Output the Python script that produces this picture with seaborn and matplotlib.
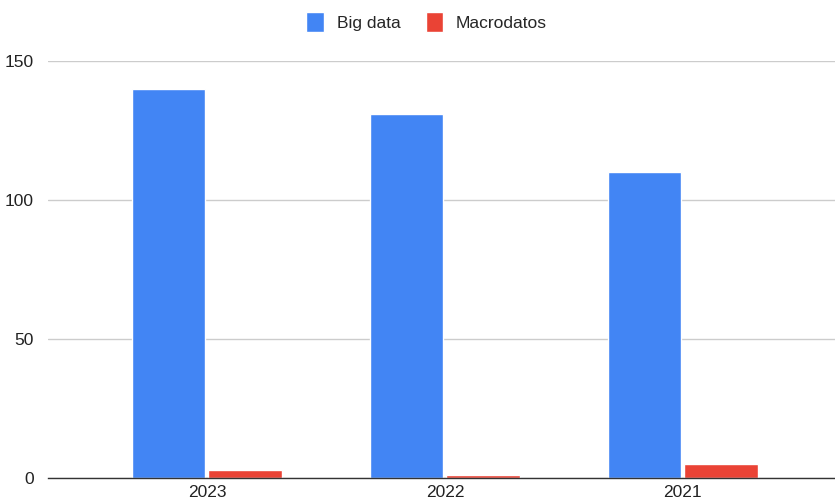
import matplotlib
matplotlib.use("Agg")
import matplotlib.pyplot as plt
import seaborn as sns
import pandas as pd

# datos
years = ["2023", "2022", "2021"]
big_data = [140, 131, 110]
macrodatos = [3, 1, 5]
series_names = ["Big data", "Macrodatos"]
colors = ["#4285F4", "#EA4335"]

df = pd.DataFrame({
    "year": years * 2,
    "value": big_data + macrodatos,
    "serie": [series_names[0]] * 3 + [series_names[1]] * 3,
})

sns.set_style("white")
plt.rcParams["font.family"] = ["Liberation Sans", "DejaVu Sans"]

fig = plt.figure(figsize=(8.35, 5.04), dpi=100)
ax = fig.add_axes([48 / 835, 26 / 504, 787 / 835, 417 / 504])

sns.barplot(data=df, x="year", y="value", hue="serie", order=years,
            hue_order=series_names, palette=colors, width=0.64, gap=0.04,
            saturation=1, ax=ax, legend=True)

ax.set_ylim(0, 150)
ax.set_xlim(-0.668, 2.639)
ax.set_yticks([0, 50, 100, 150])
ax.yaxis.grid(True, color="#cccccc", linewidth=1)
ax.set_axisbelow(True)
for s in ["top", "right", "left"]:
    ax.spines[s].set_visible(False)
ax.spines["bottom"].set_color("#333333")
ax.spines["bottom"].set_linewidth(1)
ax.tick_params(axis="both", length=0, labelsize=12.5, colors="#222222", pad=5)
ax.tick_params(axis="y", pad=10)
ax.set_xlabel("")
ax.set_ylabel("")

ax.legend(loc="center", bbox_to_anchor=(0.511, 0.956), bbox_transform=fig.transFigure,
          ncol=2, frameon=False, fontsize=12.5, handlelength=1.0, handleheight=1.4,
          columnspacing=1.45, handletextpad=0.75)

fig.savefig("out.png", dpi=100)
